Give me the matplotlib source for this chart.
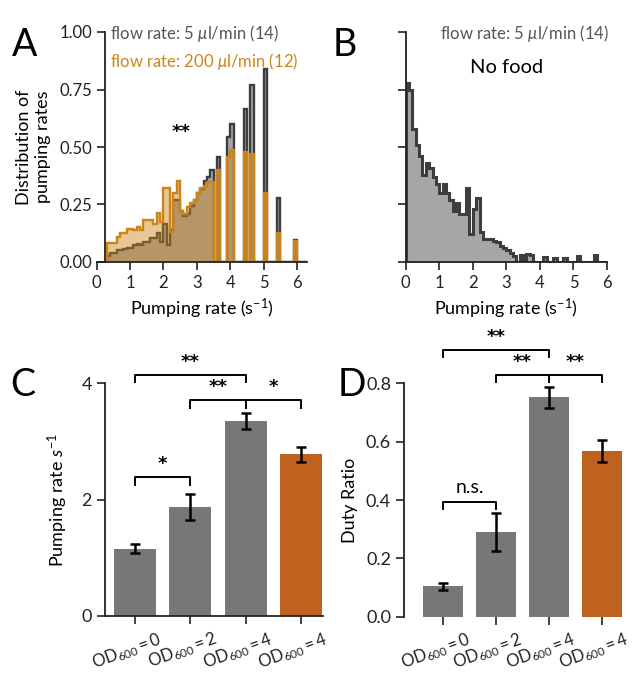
import numpy as np
import matplotlib
matplotlib.use("Agg")
import matplotlib.pyplot as plt
import matplotlib.transforms as mtransforms

plt.rcParams['font.family'] = ['Lato', 'DejaVu Sans']
plt.rcParams['mathtext.fontset'] = 'custom'
plt.rcParams['mathtext.rm'] = 'Lato'
plt.rcParams['mathtext.it'] = 'Lato:italic'
plt.rcParams['mathtext.bf'] = 'Lato:bold'

# ---- panel A: pumping rate histograms, two flow rates (bins of 0.1 s^-1 from 0.3)
a_start, a_stop, a_step = 0.3, 6.3, 0.1
a_slow = [0.026, 0.040, 0.040, 0.050, 0.050, 0.055, 0.060, 0.060, 0.074, 0.080,
          0.074, 0.088, 0.088, 0.103, 0.103, 0.128, 0.088, 0.165, 0.074, 0.140,
          0.270, 0.270, 0.220, 0.200, 0.210, 0.245, 0.270, 0.300, 0.316, 0.350,
          0.370, 0.400, 0.0, 0.458, 0.0, 0.0, 0.545, 0.600, 0.0, 0.0,
          0.0, 0.665, 0.0, 0.770, 0.0, 0.0, 0.0, 0.840, 0.0, 0.0,
          0.0, 0.277, 0.0, 0.0, 0.0, 0.0, 0.096, 0.0, 0.0, 0.0]
a_fast = [0.082, 0.082, 0.082, 0.107, 0.128, 0.128, 0.145, 0.145, 0.140, 0.150,
          0.140, 0.183, 0.183, 0.183, 0.165, 0.215, 0.175, 0.320, 0.320, 0.130,
          0.300, 0.350, 0.220, 0.210, 0.240, 0.255, 0.270, 0.300, 0.320, 0.330,
          0.346, 0.346, 0.0, 0.400, 0.0, 0.0, 0.455, 0.487, 0.0, 0.0,
          0.0, 0.480, 0.0, 0.470, 0.0, 0.0, 0.0, 0.300, 0.0, 0.0,
          0.0, 0.128, 0.0, 0.0, 0.0, 0.0, 0.093, 0.0, 0.0, 0.0]

# ---- panel B: no food (bins of 0.1 from 0)
b_start, b_stop, b_step = 0.0, 6.0, 0.1
b_nofood = [0.78, 0.75, 0.58, 0.51, 0.46, 0.38, 0.43, 0.41, 0.37, 0.34,
            0.30, 0.34, 0.30, 0.27, 0.22, 0.255, 0.21, 0.21, 0.32, 0.12,
            0.23, 0.28, 0.13, 0.10, 0.10, 0.10, 0.09, 0.085, 0.07, 0.06,
            0.05, 0.04, 0.025, 0.0, 0.03, 0.0, 0.035, 0.03, 0.0, 0.0,
            0.0, 0.02, 0.0, 0.0, 0.016, 0.0, 0.0, 0.016, 0.0, 0.0,
            0.0, 0.026, 0.0, 0.0, 0.0, 0.0, 0.03, 0.0, 0.0, 0.0]

# ---- panels C, D: bar charts
conditions = [r'$\mathrm{OD}_{\mathrm{600}}=0$', r'$\mathrm{OD}_{\mathrm{600}}=2$',
              r'$\mathrm{OD}_{\mathrm{600}}=4$', r'$\mathrm{OD}_{\mathrm{600}}=4$']
rate_mean = [1.16, 1.87, 3.35, 2.78]
rate_err = [0.07, 0.22, 0.135, 0.125]
duty_mean = [0.105, 0.29, 0.752, 0.568]
duty_err = [0.012, 0.064, 0.037, 0.037]
# (bar i, bar j, bracket height, text)
rate_sig = [(0, 1, 2.39, '*'), (1, 2, 3.71, '**'), (2, 3, 3.71, '*'), (0, 2, 4.15, '**')]
duty_sig = [(0, 1, 0.394, 'n.s.'), (1, 2, 0.829, '**'), (2, 3, 0.829, '**'), (0, 2, 0.914, '**')]

GRAY_EDGE = '#3d3d3d'
GRAY_FILL = '#a6a6a6'
ORANGE = '#cc8418'
BAR_GRAY = '#777777'
BAR_ORANGE = '#bf6220'
TXT_GRAY = '#555555'
STAR_FONT = ['DejaVu Sans']


def style(ax):
    for s in ['top', 'right']:
        ax.spines[s].set_visible(False)
    for s in ['left', 'bottom']:
        ax.spines[s].set_linewidth(1.3)
        ax.spines[s].set_color('#222222')
    ax.tick_params(direction='out', length=6, width=1.2, colors='#222222')


def bracket(ax, i, j, y, leg, txt, gap):
    ax.plot([i, i, j, j], [y - leg, y, y, y - leg], color='k', lw=1.4, clip_on=False)
    if '*' in txt:
        ax.text((i + j) / 2, y + gap, txt, ha='center', va='center', fontsize=13,
                fontweight='bold', family=STAR_FONT)
    else:
        ax.text((i + j) / 2, y + gap, txt, ha='center', va='center', fontsize=14)


fig = plt.figure(figsize=(6.32, 6.73), dpi=100)

# ---------------- A
axA = fig.add_axes([96.7 / 632, 1 - 262 / 673, 210.3 / 632, 230 / 673])
edges_a = np.round(np.arange(a_start, a_stop + a_step / 2, a_step), 2)
axA.stairs(a_slow, edges_a, fill=True, color=GRAY_FILL)
axA.stairs(a_slow, edges_a, color=GRAY_EDGE, lw=1.7, baseline=0)
axA.stairs(a_fast, edges_a, fill=True, color=ORANGE, alpha=0.45, lw=0)
axA.stairs(a_fast, edges_a, color=ORANGE, lw=1.7, baseline=0)
axA.set_xlim(0, 6.3)
axA.set_ylim(0, 1.0)
style(axA)
axA.spines['left'].set_position(('data', 0.25))
axA.set_xticks(range(0, 7))
axA.set_yticks([0, 0.25, 0.5, 0.75, 1.0])
axA.set_yticklabels(['0.00', '0.25', '0.50', '0.75', '1.00'])
axA.tick_params(labelsize=12)
axA.set_xlabel('Pumping rate (s$^{-1}$)', fontsize=13, labelpad=4)
axA.set_ylabel('Distribution of\npumping rates', fontsize=13, labelpad=6)
axA.text(0.063, 0.995, r'flow rate: 5 $\mu$l/min (14)', transform=axA.transAxes,
         ha='left', va='center', fontsize=12, color=TXT_GRAY)
axA.text(0.063, 0.87, r'flow rate: 200 $\mu$l/min (12)', transform=axA.transAxes,
         ha='left', va='center', fontsize=12, color=ORANGE)
axA.text(2.52, 0.565, '**', ha='center', va='center', fontsize=13, fontweight='bold',
         family=STAR_FONT)

# ---------------- B
axB = fig.add_axes([405.7 / 632, 1 - 262 / 673, 201.3 / 632, 230 / 673])
edges_b = np.round(np.arange(b_start, b_stop + b_step / 2, b_step), 2)
axB.stairs(b_nofood, edges_b, fill=True, color=GRAY_FILL)
axB.stairs(b_nofood, edges_b, color=GRAY_EDGE, lw=2.2, baseline=0)
axB.set_xlim(0, 6.0)
axB.set_ylim(0, 1.0)
style(axB)
axB.set_xticks(range(0, 7))
axB.set_yticks([0, 0.25, 0.5, 0.75, 1.0])
axB.set_yticklabels([])
axB.tick_params(labelsize=12)
axB.set_xlabel('Pumping rate (s$^{-1}$)', fontsize=13, labelpad=4)
axB.text(1.01, 0.995, r'flow rate: 5 $\mu$l/min (14)', transform=axB.transAxes,
         ha='right', va='center', fontsize=12, color=TXT_GRAY)
axB.text(0.5, 0.845, 'No food', transform=axB.transAxes, ha='center', va='center',
         fontsize=14.5)

# ---------------- C
colors = [BAR_GRAY, BAR_GRAY, BAR_GRAY, BAR_ORANGE]
x = np.arange(len(conditions))
shift = mtransforms.ScaledTranslation(-0.08, 0, fig.dpi_scale_trans)

axC = fig.add_axes([105 / 632, 1 - 616 / 673, 218 / 632, 232.7 / 673])
axC.bar(x, rate_mean, width=0.76, color=colors)
axC.errorbar(x, rate_mean, yerr=rate_err, fmt='none', ecolor='k', elinewidth=1.8,
             capsize=3.5, capthick=1.8)
axC.set_xlim(-0.54, 3.4)
axC.set_ylim(0, 4)
style(axC)
axC.set_yticks([0, 2, 4])
axC.set_xticks(x)
axC.set_xticklabels(conditions, rotation=20, ha='center', fontsize=12)
axC.tick_params(axis='y', labelsize=13)
axC.set_ylabel('Pumping rate $s^{-1}$', fontsize=13, labelpad=8)
for i, j, y, t in rate_sig:
    bracket(axC, i, j, y, 0.13, t, 0.22)

# ---------------- D
axD = fig.add_axes([404.3 / 632, 1 - 616.7 / 673, 218.5 / 632, 233.4 / 673])
axD.bar(x, duty_mean, width=0.76, color=colors)
axD.errorbar(x, duty_mean, yerr=duty_err, fmt='none', ecolor='k', elinewidth=1.8,
             capsize=3.5, capthick=1.8)
axD.set_xlim(-0.74, 3.4)
axD.set_ylim(0, 0.8)
style(axD)
axD.spines['bottom'].set_visible(False)
axD.set_yticks([0, 0.2, 0.4, 0.6, 0.8])
axD.set_xticks(x)
axD.set_xticklabels(conditions, rotation=20, ha='center', fontsize=12)
axD.tick_params(axis='y', labelsize=13)
axD.set_ylabel('Duty Ratio', fontsize=13, labelpad=6)
for i, j, y, t in duty_sig:
    bracket(axD, i, j, y, 0.024, t, 0.045 if t != 'n.s.' else 0.05)

for ax in (axC, axD):
    for lab in ax.get_xticklabels():
        lab.set_transform(lab.get_transform() + shift)

# panel letters
for lx, ly, letter in [(12, 45, 'A'), (333, 45, 'B'), (10, 385, 'C'), (338, 385, 'D')]:
    fig.text(lx / 632, 1 - ly / 673, letter, fontsize=27, ha='left', va='center')

fig.savefig('out.png', dpi=100)
